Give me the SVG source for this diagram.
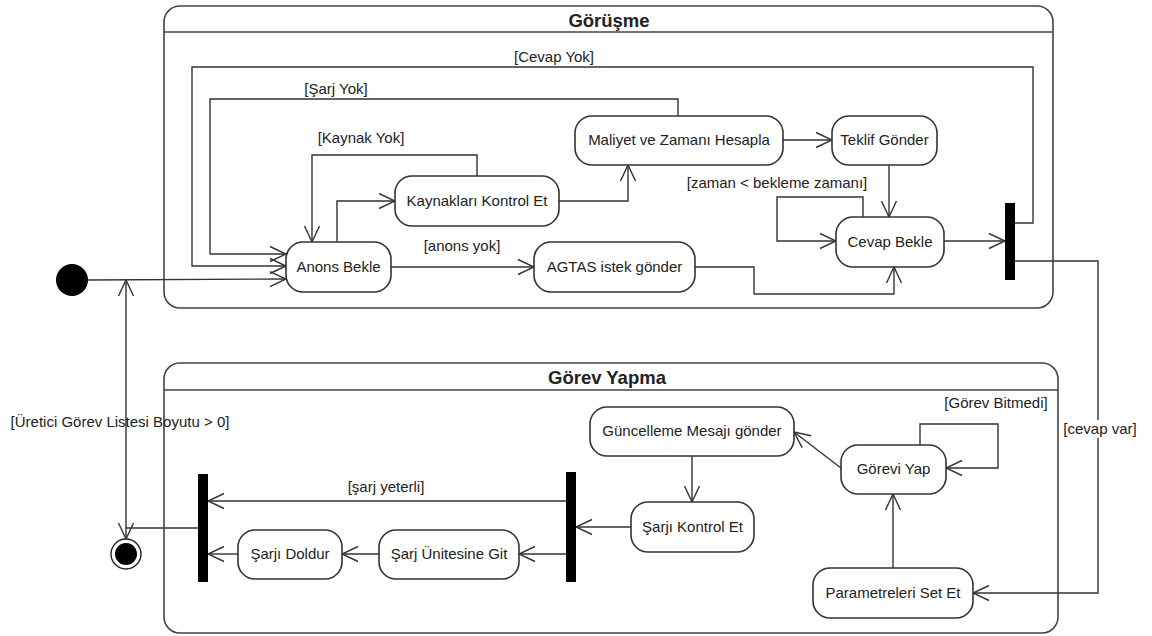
<svg xmlns="http://www.w3.org/2000/svg" width="1152" height="636" viewBox="0 0 1152 636">
<style>
text{font-family:"Liberation Sans",Arial,sans-serif;font-size:15px;fill:#222;text-anchor:middle}
.title{font-size:18.5px;font-weight:bold}
.node{fill:#fff;stroke:#333;stroke-width:1.6}
.cont{fill:none;stroke:#444;stroke-width:1.6}
.bar{fill:#000}
.c{fill:none;stroke:#333;stroke-width:1.4}
.a{marker-end:url(#arr)}
</style>
<defs>
<marker id="arr" markerUnits="userSpaceOnUse" markerWidth="18" markerHeight="18" viewBox="0 0 18 18" refX="17" refY="9" orient="auto">
<path d="M1,1.5 L17,9 L1,16.5" fill="none" stroke="#333" stroke-width="1.4"/>
</marker>
</defs>
<rect width="1152" height="636" fill="#fff"/>

<g id="gorusme">
<rect class="cont" x="164" y="6" width="889" height="302" rx="16"/>
<line class="cont" x1="164" y1="32" x2="1053" y2="32"/>
<text class="title" x="609" y="27">Görüşme</text>
</g>
<g id="gorev-yapma">
<rect class="cont" x="164" y="363" width="894" height="270" rx="16"/>
<line class="cont" x1="164" y1="390" x2="1058" y2="390"/>
<text class="title" x="607" y="384">Görev Yapma</text>
</g>

<g id="connectors">
<path class="c a" d="M88,280 L286,279"/>
<path class="c a" d="M1015,223 H1033 V67 H192 V266 H286"/>
<path class="c a" d="M678,116 V99 H210 V254 H286"/>
<path class="c a" d="M477,176 V155 H312 V242"/>
<path class="c a" d="M337,242 V201 H395"/>
<path class="c a" d="M559,201 H628 V165"/>
<path class="c a" d="M783,140 H832"/>
<path class="c a" d="M889,165 V217"/>
<path class="c a" d="M863,217 V197 H777 V241 H836"/>
<path class="c a" d="M391,267 H534"/>
<path class="c a" d="M695,267 H754 V294 H894 V267"/>
<path class="c a" d="M944,241 H1005"/>
<path class="c a" d="M1015,261 H1098 V593 H973"/>
<path class="c a" d="M893,568 V494"/>
<path class="c a" d="M920,445 V424 H998 V468 H946"/>
<path class="c a" d="M841,468 L794,432"/>
<path class="c a" d="M692,456 V502"/>
<path class="c a" d="M631,527 H576"/>
<path class="c a" d="M566,501 H208"/>
<path class="c a" d="M566,554 H519"/>
<path class="c a" d="M379,554 H342"/>
<path class="c a" d="M238,554 H208"/>
<path class="c" d="M198,528 H126"/>
<path class="c a" d="M126,528 V280"/>
<path class="c a" d="M126,528 V539"/>
<text x="554" y="62">[Cevap Yok]</text>
<text x="336" y="94">[Şarj Yok]</text>
<text x="361" y="143">[Kaynak Yok]</text>
<text x="462" y="251">[anons yok]</text>
<text x="777" y="188">[zaman &lt; bekleme zamanı]</text>
<text x="120" y="427">[Üretici Görev Listesi Boyutu &gt; 0]</text>
<text x="386" y="492">[şarj yeterli]</text>
<text x="996" y="408">[Görev Bitmedi]</text>
<rect x="1062" y="420" width="76" height="18" fill="#fff"/>
<text x="1100" y="434">[cevap var]</text>
</g>

<g id="initial"><circle cx="72" cy="280" r="16" fill="#000"/></g>
<g id="final"><circle cx="126" cy="554" r="15" fill="#fff" stroke="#222" stroke-width="1.4"/><circle cx="126" cy="554" r="11" fill="#000"/></g>

<g id="anons-bekle"><rect class="node" x="286" y="242" width="105" height="50" rx="17"/><text x="338.5" y="272">Anons Bekle</text></g>
<g id="kaynaklari-kontrol-et"><rect class="node" x="395" y="176" width="164" height="50" rx="17"/><text x="477" y="206">Kaynakları Kontrol Et</text></g>
<g id="maliyet"><rect class="node" x="575" y="116" width="208" height="49" rx="17"/><text x="679" y="145">Maliyet ve Zamanı Hesapla</text></g>
<g id="teklif-gonder"><rect class="node" x="832" y="116" width="105" height="49" rx="17"/><text x="884.5" y="145">Teklif Gönder</text></g>
<g id="agtas"><rect class="node" x="534" y="242" width="161" height="50" rx="17"/><text x="614.5" y="272">AGTAS istek gönder</text></g>
<g id="cevap-bekle"><rect class="node" x="836" y="217" width="108" height="50" rx="17"/><text x="890" y="247">Cevap Bekle</text></g>
<g id="fork1"><rect class="bar" x="1005" y="203" width="10" height="77"/></g>

<g id="guncelleme"><rect class="node" x="590" y="407" width="204" height="49" rx="17"/><text x="692" y="436">Güncelleme Mesajı gönder</text></g>
<g id="sarji-kontrol-et"><rect class="node" x="631" y="502" width="123" height="50" rx="17"/><text x="692.5" y="532">Şarjı Kontrol Et</text></g>
<g id="gorevi-yap"><rect class="node" x="841" y="445" width="105" height="49" rx="17"/><text x="893.5" y="474">Görevi Yap</text></g>
<g id="parametreleri"><rect class="node" x="813" y="568" width="160" height="50" rx="17"/><text x="893" y="598">Parametreleri Set Et</text></g>
<g id="bar-right"><rect class="bar" x="566" y="472" width="10" height="110"/></g>
<g id="bar-left"><rect class="bar" x="198" y="474" width="10" height="108"/></g>
<g id="sarj-unitesine-git"><rect class="node" x="379" y="530" width="140" height="49" rx="17"/><text x="449" y="559">Şarj Ünitesine Git</text></g>
<g id="sarji-doldur"><rect class="node" x="238" y="530" width="104" height="49" rx="17"/><text x="290" y="559">Şarjı Doldur</text></g>
</svg>
